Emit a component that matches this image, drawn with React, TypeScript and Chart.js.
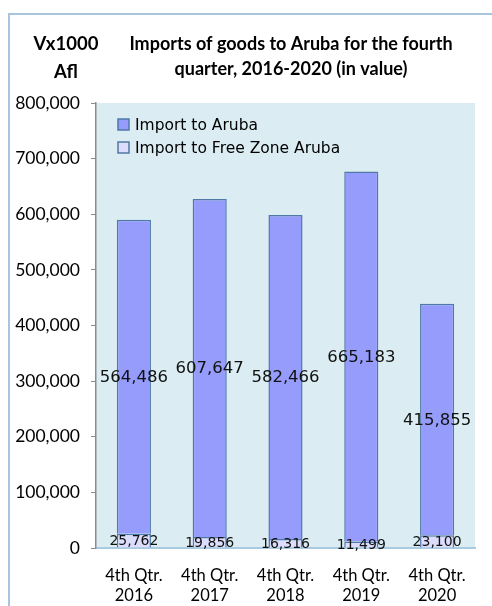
import React, { useEffect, useRef } from "react";
import { Chart, registerables } from "chart.js";

Chart.register(...registerables);

const categories: string[][] = [
  ["4th Qtr.", "2016"],
  ["4th Qtr.", "2017"],
  ["4th Qtr.", "2018"],
  ["4th Qtr.", "2019"],
  ["4th Qtr.", "2020"],
];
const freeZoneValues: number[] = [25762, 19856, 16316, 11499, 23100];
const arubaValues: number[] = [564486, 607647, 582466, 665183, 415855];
const seriesNames: string[] = ["Import to Aruba", "Import to Free Zone Aruba"];
const titleLines: string[] = ["Imports of goods to Aruba for the fourth", "quarter, 2016-2020 (in value)"];
const unitLines: string[] = ["Vx1000", "Afl"];

const ARUBA_FILL = "#959cfc";
const FZ_FILL = "#dcdcfc";
const BAR_BORDER = "#4f79a6";

const fmt = (v: number) => v.toLocaleString("en-US");

export default function App() {
  const ref = useRef<HTMLCanvasElement | null>(null);
  useEffect(() => {
    if (!ref.current) return;
    const decor = {
      id: "decor",
      beforeDraw(chart: any) {
        const { ctx, chartArea: a } = chart;
        ctx.save();
        ctx.fillStyle = "#ffffff";
        ctx.fillRect(0, 0, chart.width, chart.height);
        ctx.strokeStyle = "#a9c4de";
        ctx.lineWidth = 2;
        ctx.beginPath();
        ctx.moveTo(9, chart.height + 5);
        ctx.lineTo(9, 14);
        ctx.lineTo(chart.width + 5, 14);
        ctx.stroke();
        ctx.fillStyle = "#dbecf2";
        ctx.fillRect(a.left, a.top, a.right - a.left, a.bottom - a.top);
        ctx.restore();
      },
      afterDraw(chart: any) {
        const { ctx, chartArea: a } = chart;
        ctx.save();
        ctx.fillStyle = "#000";
        ctx.textAlign = "center";
        ctx.textBaseline = "middle";
        ctx.font = "bold 18px Lato";
        ctx.fillText(titleLines[0], 291, 44);
        ctx.fillText(titleLines[1], 291, 69);
        ctx.font = "bold 18.5px Lato";
        ctx.fillText(unitLines[0], 66, 44);
        ctx.fillText(unitLines[1], 66, 72);
        // legend (inside plot)
        const items = [
          { label: chart.data.datasets[1].label, fill: ARUBA_FILL, y: 125 },
          { label: chart.data.datasets[0].label, fill: FZ_FILL, y: 148 },
        ];
        ctx.textAlign = "left";
        ctx.font = "15.5px 'DejaVu Sans'";
        for (const it of items) {
          ctx.fillStyle = it.fill;
          ctx.fillRect(a.left + 22, it.y - 6, 11, 11);
          ctx.strokeStyle = BAR_BORDER;
          ctx.lineWidth = 1.5;
          ctx.strokeRect(a.left + 22, it.y - 6, 11, 11);
          ctx.fillStyle = "#000";
          ctx.fillText(it.label, a.left + 39, it.y + 1);
        }
        ctx.restore();
      },
      afterDatasetsDraw(chart: any) {
        const { ctx } = chart;
        ctx.save();
        ctx.fillStyle = "#111";
        ctx.textAlign = "center";
        ctx.textBaseline = "middle";
        chart.data.datasets.forEach((ds: any, di: number) => {
          const meta = chart.getDatasetMeta(di);
          ctx.font = di === 0 ? "14px 'DejaVu Sans'" : "16.5px 'DejaVu Sans'";
          meta.data.forEach((el: any, i: number) => {
            const y = (el.y + el.base) / 2;
            ctx.fillText(fmt(ds.data[i]), el.x, y + 1);
          });
        });
        ctx.restore();
      },
    };
    const chart = new Chart(ref.current, {
      type: "bar",
      data: {
        labels: categories,
        datasets: [
          {
            label: seriesNames[1],
            data: freeZoneValues,
            backgroundColor: FZ_FILL,
            borderColor: BAR_BORDER,
            borderWidth: 1.5,
            categoryPercentage: 1,
            barPercentage: 0.45,
          },
          {
            label: seriesNames[0],
            data: arubaValues,
            backgroundColor: ARUBA_FILL,
            borderColor: BAR_BORDER,
            borderWidth: 1.5,
            categoryPercentage: 1,
            barPercentage: 0.45,
          },
        ],
      },
      options: {
        animation: false,
        responsive: false,
        layout: { padding: { top: 103, right: 17, left: 0, bottom: 0 } },
        plugins: { legend: { display: false }, tooltip: { enabled: false }, title: { display: false } },
        scales: {
          x: {
            stacked: true,
            grid: { display: false, drawTicks: false },
            border: { color: "#a9cbe2", width: 2 },
            ticks: { color: "#000", font: { family: "Lato", size: 16.5 }, padding: 18, maxRotation: 0 },
            afterFit: (s: any) => { s.height = 58; },
          },
          y: {
            stacked: true,
            min: 0,
            max: 800000,
            grid: { drawOnChartArea: false, drawTicks: true, tickLength: 5, color: "#8c8c8c" },
            border: { color: "#8c8c8c", width: 1.5 },
            ticks: {
              stepSize: 100000,
              color: "#000",
              padding: 11,
              font: { family: "Lato", size: 17.5 },
              callback: (v: any) => fmt(Number(v)),
            },
            afterFit: (s: any) => { s.width = 96; },
          },
        },
      },
      plugins: [decor],
    });
    return () => chart.destroy();
  }, []);
  return (
    <div style={{ position: "fixed", left: 0, top: 0, width: 492, height: 606 }}>
      <canvas ref={ref} width={492} height={606} style={{ display: "block" }} />
    </div>
  );
}
